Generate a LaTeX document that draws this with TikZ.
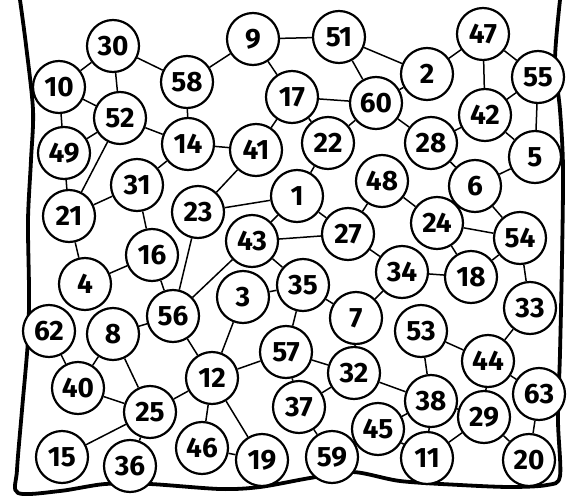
\documentclass[tikz,border=0pt]{standalone}
\usepackage{fontspec}
\setmainfont{Fira Sans}
\usetikzlibrary{positioning}

\begin{document}
\begin{tikzpicture}[x=1pt, y=-1pt, line width=1.5pt,
  every node/.style={circle,draw,line width=2.2pt,fill=white,minimum size=52pt,inner sep=0pt,font=\bfseries\fontsize{28}{28}\selectfont}]
\useasboundingbox (0,0) rectangle (574,501);
% hand-drawn frame
\draw[line width=3.8pt, line cap=round, line join=round] plot[smooth] coordinates {(20,0) (26,45) (33,110) (31,160) (28,220) (29,290) (28,340) (22,410) (17,470) (18,493) (60,491) (105,484) (150,484) (220,489) (260,487) (310,478) (353,472) (400,481) (460,485) (510,487) (547,485) (560,476) (558,420) (560,353) (562,260) (563,167) (560,110) (555,60) (560,0)};
% row by row, top to bottom
\node (n30) at (113,46) {30}; \node (n9) at (253,39) {9}; \node (n51) at (339,37) {51}; \node (n47) at (483,34) {47};
\node (n10) at (59,87) {10}; \node (n58) at (187,82) {58}; \node (n2) at (427,74) {2}; \node (n55) at (538,77) {55};
\node (n52) at (120,118) {52}; \node (n17) at (292,97) {17}; \node (n60) at (376,103) {60}; \node (n42) at (485,115) {42};
\node (n49) at (64,153) {49}; \node (n14) at (188,144) {14}; \node (n41) at (256,150) {41}; \node (n22) at (328,143) {22};
\node (n28) at (431,143) {28}; \node (n5) at (535,157) {5};
\node (n31) at (137,185) {31}; \node (n48) at (382,181) {48}; \node (n6) at (475,186) {6};
\node (n21) at (69,216) {21}; \node (n23) at (198,212) {23}; \node (n1) at (297,196) {1}; \node (n24) at (437,223) {24};
\node (n43) at (252,241) {43}; \node (n27) at (348,234) {27}; \node (n54) at (520,238) {54};
\node (n16) at (152,255) {16}; \node (n4) at (85,284) {4}; \node (n34) at (402,272) {34}; \node (n18) at (471,277) {18};
\node (n3) at (243,297) {3}; \node (n35) at (303,285) {35}; \node (n33) at (530,308) {33};
\node (n62) at (49,331) {62}; \node (n8) at (113,334) {8}; \node (n56) at (173,316) {56}; \node (n7) at (356,318) {7}; \node (n53) at (421,331) {53};
\node (n57) at (286,352) {57}; \node (n44) at (488,361) {44}; \node (n12) at (212,378) {12}; \node (n32) at (354,373) {32};
\node (n40) at (78,388) {40}; \node (n63) at (539,394) {63}; \node (n25) at (150,412) {25}; \node (n37) at (299,407) {37};
\node (n38) at (431,401) {38}; \node (n29) at (484,417) {29}; \node (n45) at (378,429) {45};
\node (n46) at (202,448) {46}; \node (n15) at (62,457) {15}; \node (n36) at (130,466) {36}; \node (n19) at (262,460) {19};
\node (n59) at (332,457) {59}; \node (n11) at (427,458) {11}; \node (n20) at (529,460) {20};
% connections
\draw (n30)--(n10); \draw (n30)--(n52); \draw (n30)--(n58); \draw (n10)--(n52); \draw (n10)--(n49); \draw (n52)--(n49);
\draw (n52)--(n14); \draw (n52)--(n21); \draw (n49)--(n21); \draw (n58)--(n14); \draw (n58)--(n9); \draw (n14)--(n31);
\draw (n14)--(n41); \draw (n9)--(n51); \draw (n9)--(n17); \draw (n51)--(n60); \draw (n51)--(n2); \draw (n17)--(n60);
\draw (n17)--(n41); \draw (n17)--(n22); \draw (n60)--(n22); \draw (n60)--(n2); \draw (n60)--(n28); \draw (n2)--(n47);
\draw (n47)--(n42); \draw (n47)--(n55); \draw (n55)--(n42); \draw (n55)--(n5); \draw (n42)--(n5); \draw (n42)--(n28);
\draw (n28)--(n6); \draw (n6)--(n5); \draw (n6)--(n24); \draw (n6)--(n54); \draw (n48)--(n24); \draw (n48)--(n27);
\draw (n22)--(n1); \draw (n41)--(n23); \draw (n23)--(n1); \draw (n1)--(n43); \draw (n1)--(n27); \draw (n43)--(n27);
\draw (n43)--(n35); \draw (n43)--(n56); \draw (n3)--(n35); \draw (n35)--(n7); \draw (n35)--(n57); \draw (n23)--(n56);
\draw (n3)--(n12); \draw (n27)--(n34); \draw (n7)--(n34); \draw (n24)--(n54); \draw (n24)--(n18); \draw (n18)--(n54);
\draw (n34)--(n18); \draw (n54)--(n33); \draw (n33)--(n44); \draw (n53)--(n44); \draw (n21)--(n31); \draw (n21)--(n4);
\draw (n31)--(n16); \draw (n16)--(n4); \draw (n16)--(n56); \draw (n56)--(n8); \draw (n56)--(n12); \draw (n62)--(n40);
\draw (n8)--(n40); \draw (n8)--(n25); \draw (n40)--(n25); \draw (n25)--(n15); \draw (n25)--(n12); \draw (n25)--(n36);
\draw (n12)--(n46); \draw (n12)--(n57); \draw (n12)--(n19); \draw (n46)--(n19); \draw (n57)--(n32); \draw (n57)--(n37);
\draw (n37)--(n59); \draw (n32)--(n37); \draw (n32)--(n38); \draw (n7)--(n32); \draw (n53)--(n38); \draw (n44)--(n63);
\draw (n44)--(n29); \draw (n38)--(n29); \draw (n38)--(n45); \draw (n38)--(n11); \draw (n45)--(n11); \draw (n11)--(n29);
\draw (n29)--(n20); \draw (n63)--(n20); \draw (n45)--(n59);
\end{tikzpicture}
\end{document}
